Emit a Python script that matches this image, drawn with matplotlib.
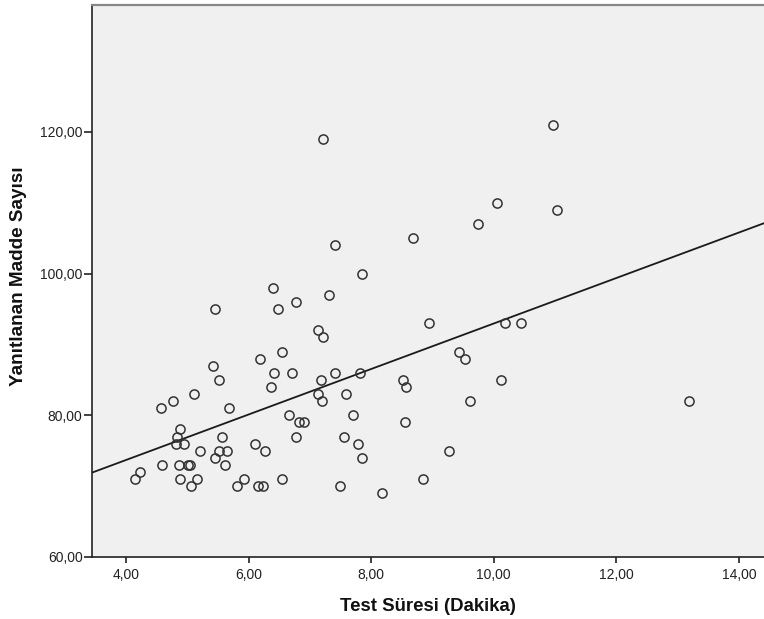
import numpy as np
import matplotlib
matplotlib.use("Agg")
import matplotlib.pyplot as plt
from matplotlib.ticker import FuncFormatter

# Test duration (minutes)
test_suresi = [
    7.21, 7.41, 8.69, 7.85, 6.40, 5.46, 6.48, 6.77, 7.31, 7.14,
    7.22, 8.95, 6.55, 6.18, 5.42, 5.52, 6.41, 6.71, 6.37, 7.41,
    7.81, 7.18, 7.14, 7.19, 7.59, 8.52, 8.57, 8.55, 8.85, 4.57,
    4.77, 5.11, 5.68, 4.88, 4.84, 4.82, 4.94, 4.59, 4.87, 5.01,
    5.04, 4.15, 4.23, 4.88, 5.06, 5.16, 5.21, 5.57, 5.52, 5.65,
    5.46, 5.61, 5.81, 5.93, 6.10, 6.27, 6.16, 6.23, 6.55, 6.66,
    6.83, 6.90, 6.78, 7.56, 7.70, 7.78, 7.85, 7.49, 8.18, 10.96,
    10.05, 11.04, 9.74, 10.19, 10.44, 9.44, 9.53, 10.12, 9.61, 13.19,
    9.27,
]
# Number of answered items
yanitlanan = [
    119, 104, 105, 100, 98, 95, 95, 96, 97, 92,
    91, 93, 89, 88, 87, 85, 86, 86, 84, 86,
    86, 85, 83, 82, 83, 85, 84, 79, 71, 81,
    82, 83, 81, 78, 77, 76, 76, 73, 73, 73,
    73, 71, 72, 71, 70, 71, 75, 77, 75, 75,
    74, 73, 70, 71, 76, 75, 70, 70, 71, 80,
    79, 79, 77, 77, 80, 76, 74, 70, 69, 121,
    110, 109, 107, 93, 93, 89, 88, 85, 82, 82,
    75,
]
x_ticks = [4, 6, 8, 10, 12, 14]
y_ticks = [60, 80, 100, 120]

plt.rcParams['font.family'] = ['Liberation Sans', 'DejaVu Sans']

fig = plt.figure(figsize=(7.64, 6.19), dpi=100)
W, H = 764, 619
ax = fig.add_axes([92 / W, 1 - 557 / H, (W - 92) / W, (557 - 5) / H])
ax.set_facecolor('#f0f0f0')

x = np.array(test_suresi)
y = np.array(yanitlanan)
ax.plot(x, y, linestyle='none', marker='o', markersize=6.6,
        markerfacecolor='none', markeredgecolor='#333333',
        markeredgewidth=1.1, zorder=3)

xmin, xmax = 3.445, 14.41
slope, intercept = np.polyfit(x, y, 1)
xs = np.array([xmin, xmax])
ax.plot(xs, intercept + slope * xs, color='#1a1a1a', linewidth=1.3, zorder=2)

ax.set_xlim(xmin, xmax)
ax.set_ylim(60, 137.9)
ax.set_xticks(x_ticks)
ax.set_yticks(y_ticks)
fmt = FuncFormatter(lambda v, p: f"{v:.2f}".replace('.', ','))
ax.xaxis.set_major_formatter(fmt)
ax.yaxis.set_major_formatter(fmt)
ax.tick_params(axis='both', direction='out', width=1.2,
               color='#222222', labelsize=10, labelcolor='#222222')
ax.tick_params(axis='x', length=4.5, pad=3.2)
ax.tick_params(axis='y', length=6, pad=0.8)

ax.spines['right'].set_visible(False)
ax.spines['top'].set_color('#888888')
ax.spines['top'].set_linewidth(1.6)
ax.spines['left'].set_color('#222222')
ax.spines['bottom'].set_color('#222222')
ax.spines['left'].set_linewidth(1.2)
ax.spines['bottom'].set_linewidth(1.2)

ax.set_xlabel('Test Süresi (Dakika)', fontsize=13.4, fontweight='bold',
              color='#111111', labelpad=11.5)
ax.set_ylabel('Yanıtlanan Madde Sayısı', fontsize=13.6, fontweight='bold',
              color='#111111', labelpad=9.5)
ax.yaxis.label.set_y(0.509)

fig.savefig('out.png', dpi=100)
